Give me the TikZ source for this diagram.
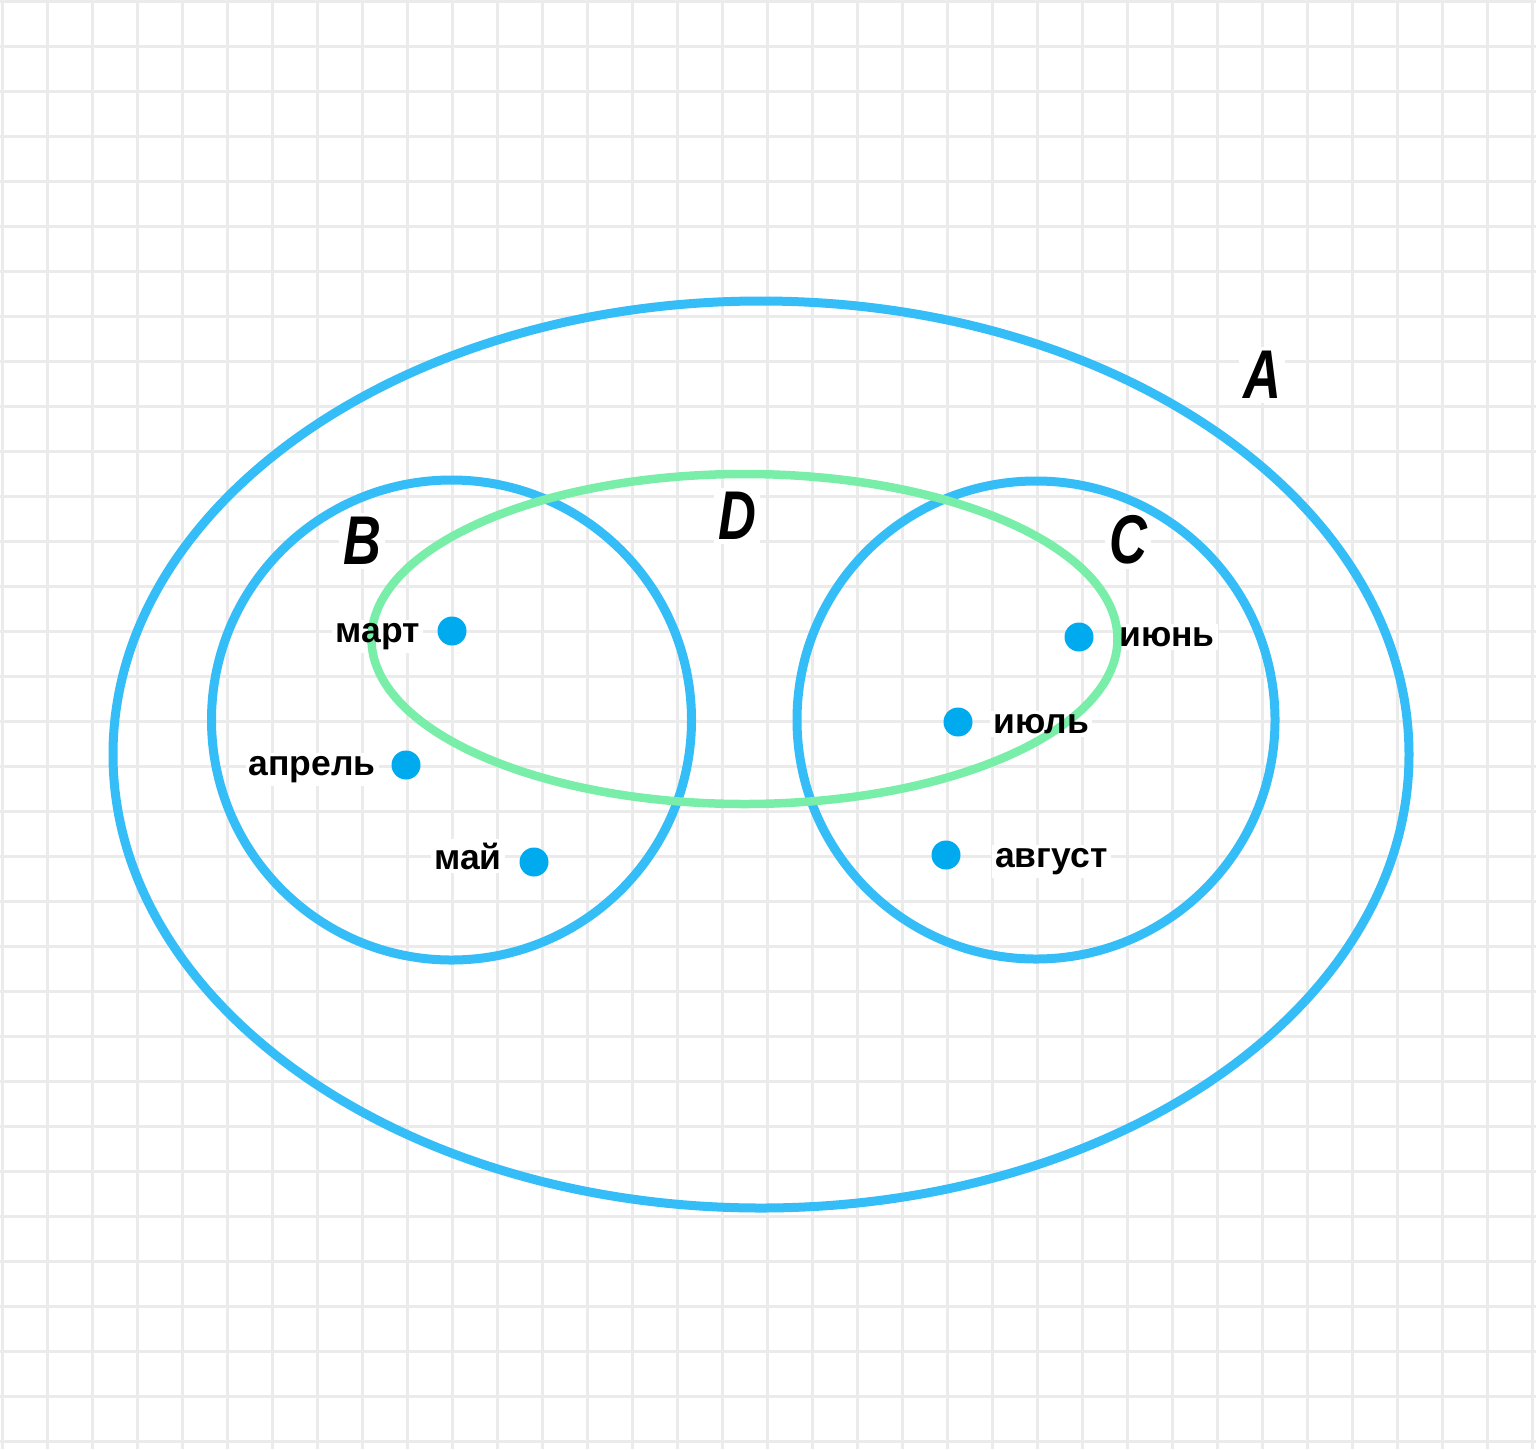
\documentclass[tikz,border=0pt]{standalone}
\usepackage{fontspec}
\setmainfont{Liberation Sans}
\pgfdeclarelayer{gridlayer}
\pgfdeclarelayer{boxlayer}
\pgfdeclarelayer{frontlayer}
\pgfsetlayers{gridlayer,boxlayer,main,frontlayer}
\definecolor{gridc}{RGB}{235,235,235}
\definecolor{ringc}{RGB}{52,189,246}
\definecolor{dotc}{RGB}{0,170,239}
\definecolor{greenc}{RGB}{120,238,168}
\tikzset{
  gridline/.style={draw=gridc, line width=3pt},
  ring/.style={draw=ringc, line width=9pt},
  dring/.style={draw=greenc, line width=8.5pt},
  dot/.style={circle, fill=dotc, inner sep=0pt, minimum size=29pt},
  month/.style={font=\fontsize{35.5}{36}\selectfont\bfseries, inner sep=3pt, text=black},
  setname/.style={font=\fontsize{69}{69}\selectfont\bfseries\itshape, inner sep=4pt, text=black},
  knock/.style={fill=white},
}
\newcommand{\cond}[1]{\scalebox{0.76}[1]{#1}}
\begin{document}
\begin{tikzpicture}[x=1pt,y=-1pt]
\useasboundingbox (0,0) rectangle (1536,1449);
\begin{pgfonlayer}{gridlayer}
  \fill[white] (0,0) rectangle (1536,1449);
  \foreach \i in {0,...,34} \draw[gridline] (2.7+45*\i,0) -- (2.7+45*\i,1449);
  \foreach \j in {0,...,32} \draw[gridline] (0,1.7+45*\j) -- (1536,1.7+45*\j);
\end{pgfonlayer}

% set rings
\draw[ring] (761,754.5) ellipse [x radius=648pt, y radius=453.5pt];
\draw[ring] (451.5,720) circle [radius=240pt];
\draw[ring] (1036,720) circle [radius=239pt];
\draw[dring] (744.5,639) ellipse [x radius=373pt, y radius=165pt];

% elements
\node[dot] (dmart) at (452,631) {};
\node[dot] (daprel) at (406,765) {};
\node[dot] (dmay) at (534,862) {};
\node[dot] (diyun) at (1079,637) {};
\node[dot] (diyul) at (958,722) {};
\node[dot] (davg) at (946,855) {};

\begin{pgfonlayer}{frontlayer}
  \node[month, anchor=base east] (tmart) at (423,642) {март};
  \node[month, anchor=base east] (taprel) at (379,775) {апрель};
  \node[month, anchor=base east] (tmay) at (505,869) {май};
  \node[month, anchor=base west] (tiyun) at (1116,646) {июнь};
  \node[month, anchor=base west] (tiyul) at (990,733) {июль};
  \node[month, anchor=base west] (tavg) at (992,867) {август};
  \node[setname] (lA) at (1262,375) {\cond{A}};
  \node[setname] (lB) at (362,541) {\cond{B}};
  \node[setname] (lC) at (1128,540) {\cond{C}};
  \node[setname] (lD) at (737,516) {\cond{D}};
\end{pgfonlayer}

\begin{pgfonlayer}{boxlayer}
  \foreach \n in {tmart,taprel,tmay,tiyun,tiyul,tavg,lA,lB,lC,lD}
    \fill[knock] (\n.south west) rectangle (\n.north east);
\end{pgfonlayer}
\end{tikzpicture}
\end{document}
